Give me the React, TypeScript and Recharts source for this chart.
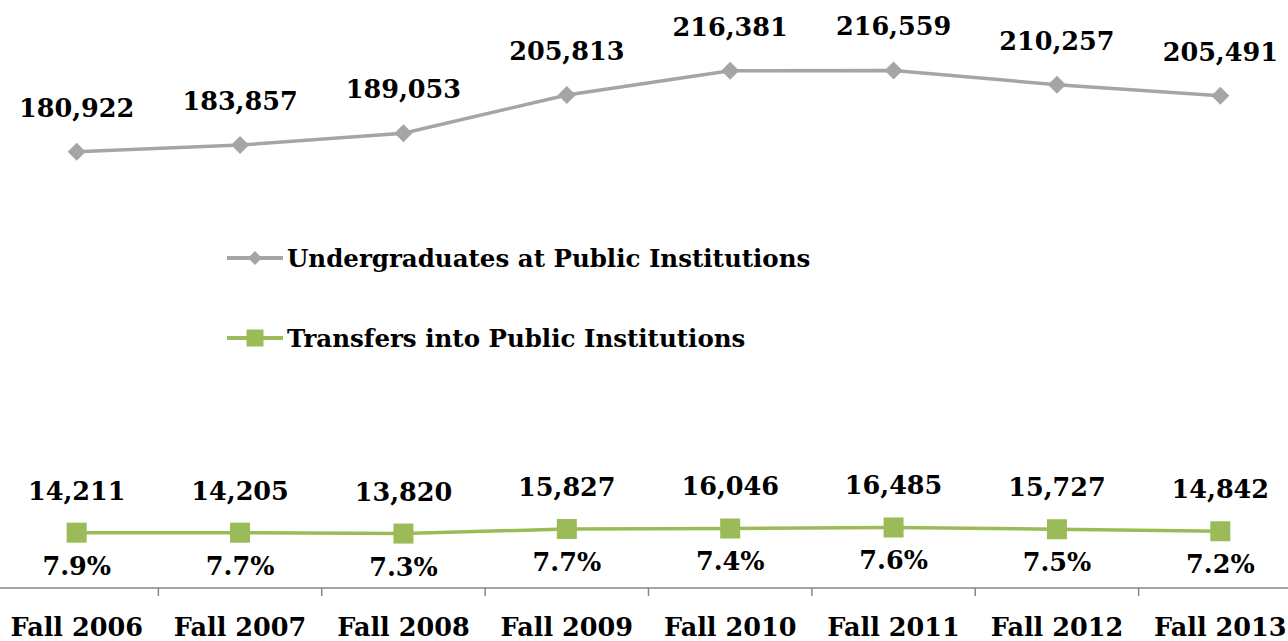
import { LineChart, Line, XAxis, YAxis, LabelList, Legend } from "recharts";

const YEARS = ["Fall 2006", "Fall 2007", "Fall 2008", "Fall 2009", "Fall 2010", "Fall 2011", "Fall 2012", "Fall 2013"];
const UNDERGRADS = [180922, 183857, 189053, 205813, 216381, 216559, 210257, 205491];
const TRANSFERS = [14211, 14205, 13820, 15827, 16046, 16485, 15727, 14842];
const TRANSFER_PCT = ["7.9%", "7.7%", "7.3%", "7.7%", "7.4%", "7.6%", "7.5%", "7.2%"];

const GRAY = "#a5a5a5";
const GREEN = "#9bbb59";
const FONT = "'DejaVu Serif', serif";

const data = YEARS.map((year, i) => ({
  year,
  undergrads: UNDERGRADS[i],
  transfers: TRANSFERS[i],
  pct: TRANSFER_PCT[i],
}));

const fmt = (v: number) => v.toLocaleString("en-US");

function diamond(cx: number, cy: number, half: number, color: string, key?: any) {
  return <path key={key} d={`M${cx},${cy - half}L${cx + half},${cy}L${cx},${cy + half}L${cx - half},${cy}Z`} fill={color} />;
}

function square(cx: number, cy: number, side: number, color: string, key?: any) {
  return <rect key={key} x={cx - side / 2} y={cy - side / 2} width={side} height={side} fill={color} />;
}

function AxisTick({ x, y, payload, index }: any) {
  const half = payload.offset ?? 0;
  return (
    <g>
      <line x1={x - half} x2={x - half} y1={y} y2={y + 8} stroke="#868686" strokeWidth={1.5} />
      {index === YEARS.length - 1 && (
        <line x1={x + half} x2={x + half} y1={y} y2={y + 8} stroke="#868686" strokeWidth={1.5} />
      )}
      <text x={x} y={y + 48} textAnchor="middle" fontFamily={FONT} fontWeight="bold" fontSize={25.5} fill="#000">
        {payload.value}
      </text>
    </g>
  );
}

function LegendContent() {
  const rows = [
    { name: "Undergraduates at Public Institutions", color: GRAY, shape: "diamond" },
    { name: "Transfers into Public Institutions", color: GREEN, shape: "square" },
  ];
  return (
    <div>
      {rows.map((r) => (
        <div key={r.name} style={{ display: "flex", alignItems: "center", height: 80 }}>
          <svg width={60} height={24}>
            <line x1={0} x2={56} y1={12} y2={12} stroke={r.color} strokeWidth={4} />
            {r.shape === "diamond" ? diamond(28, 12, 7, r.color) : square(28, 12, 17, r.color)}
          </svg>
          <span style={{ fontFamily: FONT, fontWeight: "bold", fontSize: 24.5, color: "#000", whiteSpace: "nowrap" }}>
            {r.name}
          </span>
        </div>
      ))}
    </div>
  );
}

const valueLabel = (dy: number) => (props: any) => {
  const { x, y, value } = props;
  return (
    <text x={x} y={y + dy} textAnchor="middle" fontFamily={FONT} fontWeight="bold" fontSize={25.5} fill="#000">
      {typeof value === "number" ? fmt(value) : value}
    </text>
  );
};

export default function App() {
  return (
    <div style={{ position: "absolute", left: 0, top: 0, width: 1288, height: 641, overflow: "hidden", background: "#fff" }}>
      <div style={{ position: "absolute", left: -16, top: -26 }}>
        <LineChart width={1320} height={674} data={data} margin={{ top: 20, right: 2, bottom: 0, left: 11 }}>
          <XAxis
            dataKey="year"
            scale="band"
            height={60}
            tickLine={false}
            tickSize={0}
            tickMargin={0}
            axisLine={{ stroke: "#868686", strokeWidth: 1.5 }}
            tick={<AxisTick />}
            interval={0}
          />
          <YAxis hide type="number" domain={[-10000, 250000]} allowDataOverflow />
          <Legend
            layout="horizontal"
            verticalAlign="middle"
            align="center"
            content={<LegendContent />}
            wrapperStyle={{ position: "absolute", left: 243, top: 244, width: 800, height: 160 }}
          />
          <Line
            dataKey="undergrads"
            stroke={GRAY}
            strokeWidth={3.5}
            dot={(p: any) => diamond(p.cx, p.cy, 9, GRAY, `u${p.index}`)}
            activeDot={false}
            isAnimationActive={false}
          >
            <LabelList dataKey="undergrads" content={valueLabel(-35)} />
          </Line>
          <Line
            dataKey="transfers"
            stroke={GREEN}
            strokeWidth={3.5}
            dot={(p: any) => square(p.cx, p.cy, 20, GREEN, `t${p.index}`)}
            activeDot={false}
            isAnimationActive={false}
          >
            <LabelList dataKey="transfers" content={valueLabel(-33)} />
            <LabelList dataKey="pct" content={valueLabel(42)} />
          </Line>
        </LineChart>
      </div>
    </div>
  );
}
